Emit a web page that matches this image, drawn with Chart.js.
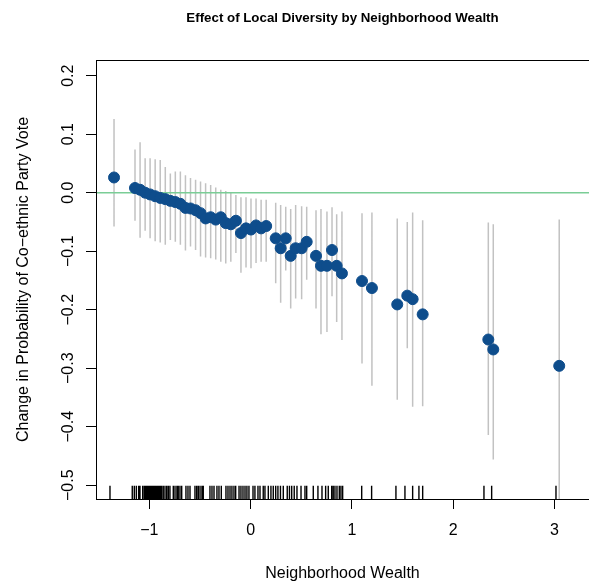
<!DOCTYPE html>
<html>
<head>
<meta charset="utf-8">
<script src="https://cdn.jsdelivr.net/npm/chart.js@4/dist/chart.umd.min.js"></script>
<style>
  html, body { margin: 0; padding: 0; background: #ffffff; overflow: hidden; }
  #wrap { width: 589px; height: 585px; position: relative; }
  canvas { display: block; }
</style>
</head>
<body>
<div id="wrap"><canvas id="chart" width="589" height="585"></canvas></div>
<script>
// Neighborhood wealth at which the marginal effect was evaluated
const wealth = [
  -1.349,
  -1.142, -1.092, -1.042, -0.993, -0.943, -0.893, -0.843, -0.793, -0.744, -0.694,
  -0.644, -0.594, -0.544, -0.495, -0.445, -0.395, -0.345, -0.295, -0.246, -0.196,
  -0.146, -0.096, -0.046, 0.003, 0.053, 0.103, 0.153,
  0.247, 0.296, 0.346, 0.395, 0.444, 0.503, 0.553, 0.645, 0.694, 0.753, 0.803,
  0.849, 0.901, 1.099, 1.197, 1.447, 1.546, 1.599, 1.698, 2.346, 2.395, 3.046
];
// Estimated change in probability of a co-ethnic party vote
const effect = [
  0.026,
  0.008, 0.005, 0.000, -0.003, -0.006, -0.009, -0.011, -0.014, -0.016, -0.019,
  -0.026, -0.027, -0.030, -0.035, -0.044, -0.042, -0.046, -0.042, -0.052, -0.054,
  -0.048, -0.069, -0.061, -0.063, -0.056, -0.061, -0.057,
  -0.078, -0.095, -0.078, -0.108, -0.095, -0.095, -0.084, -0.108, -0.125, -0.125, -0.098,
  -0.125, -0.138, -0.151, -0.163, -0.191, -0.176, -0.182, -0.208, -0.251, -0.268, -0.296
];
// Confidence interval bounds
const ciHigh = [
  0.126,
  0.074, 0.086, 0.059, 0.059, 0.057, 0.056, 0.044, 0.033, 0.036, 0.036,
  0.030, 0.025, 0.022, 0.019, 0.016, 0.013, 0.009, 0.005, 0.003, 0.000,
  -0.004, -0.008, -0.008, -0.010, -0.010, -0.012, -0.012,
  -0.017, -0.021, -0.024, -0.028, -0.021, -0.023, -0.024, -0.030, -0.028, -0.032, -0.025,
  -0.037, -0.032, -0.035, -0.034, -0.044, -0.050, -0.034, -0.047, -0.051, -0.054, -0.046
];
const ciLow = [
  -0.058,
  -0.048, -0.077, -0.065, -0.078, -0.083, -0.085, -0.089, -0.081, -0.084, -0.089,
  -0.099, -0.092, -0.098, -0.109, -0.111, -0.112, -0.114, -0.118, -0.121, -0.118,
  -0.103, -0.137, -0.128, -0.129, -0.120, -0.118, -0.118,
  -0.155, -0.188, -0.133, -0.198, -0.181, -0.182, -0.149, -0.198, -0.242, -0.238, -0.177,
  -0.221, -0.252, -0.292, -0.330, -0.354, -0.266, -0.366, -0.365, -0.414, -0.456, -0.540
];
// Observed neighborhood wealth values (rug)
const rugWealth = [
  -1.389, -1.169, -1.149, -1.129, -1.106, -1.093, -1.066, -1.050, -1.037, -1.024,
  -1.011, -0.997, -0.984, -0.971, -0.958, -0.945, -0.932, -0.918, -0.905, -0.892,
  -0.879, -0.863, -0.846, -0.829, -0.813, -0.797, -0.764, -0.747, -0.728, -0.715,
  -0.698, -0.681, -0.639, -0.619, -0.599, -0.550, -0.533, -0.517, -0.500, -0.481,
  -0.468, -0.402, -0.382, -0.362, -0.333, -0.313, -0.290, -0.244, -0.224, -0.204,
  -0.185, -0.165, -0.148, -0.115, -0.096, -0.076, -0.056, -0.037, -0.017, 0.023,
  0.042, 0.072, 0.092, 0.124, 0.141, 0.174, 0.200, 0.223, 0.247, 0.269,
  0.294, 0.322, 0.361, 0.383, 0.405, 0.430, 0.457, 0.497, 0.536, 0.553,
  0.618, 0.664, 0.704, 0.740, 0.766, 0.800, 0.815, 0.832, 0.852, 0.875,
  0.891, 0.908, 1.096, 1.194, 1.434, 1.523, 1.599, 1.661, 1.698, 2.303,
  2.379, 3.014
];
const xTickValues = [-1, 0, 1, 2, 3];
const yTickValues = [-0.5, -0.4, -0.3, -0.2, -0.1, 0.0, 0.1, 0.2];
const xRange = [-1.527, 3.34];
const yRange = [-0.5236, 0.2268];

const FONT = '"Liberation Sans", Arial, Helvetica, sans-serif';
Chart.defaults.font.family = FONT;

function fmt(v, digits) {
  const s = Math.abs(v).toFixed(digits);
  return (v < -1e-9 ? '\u2212' : '') + s;
}

const pointData = wealth.map((x, i) => ({ x, y: effect[i] }));
const ciData = [];
wealth.forEach((x, i) => { ciData.push({ x, y: ciLow[i] }, { x, y: ciHigh[i] }, { x, y: null }); });
// rug ticks are 3% of the plot height
const rugTop = yRange[0] + (yRange[1] - yRange[0]) * 0.03;
const rugData = [];
rugWealth.forEach(x => { rugData.push({ x, y: yRange[0] }, { x, y: rugTop }, { x, y: null }); });
const zeroData = [{ x: xRange[0], y: 0 }, { x: xRange[1], y: 0 }];

const TICK_LEN = 10;

const framePlugin = {
  id: 'frameAndLabels',
  afterDatasetsDraw(chart) {
    const { ctx, chartArea: a, scales } = chart;
    ctx.save();
    // box around the plotting region
    ctx.strokeStyle = '#000';
    ctx.lineWidth = 1;
    ctx.strokeRect(Math.round(a.left) + 0.5, Math.round(a.top) + 0.5,
                   Math.round(a.right - a.left), Math.round(a.bottom - a.top));
    // main title
    ctx.fillStyle = '#000';
    ctx.font = 'bold 13.3px ' + FONT;
    ctx.textAlign = 'center';
    ctx.textBaseline = 'alphabetic';
    ctx.fillText('Effect of Local Diversity by Neighborhood Wealth', (a.left + a.right) / 2, 22);
    // vertical y tick labels, reading upward
    const ys = scales.y;
    ctx.font = '16px ' + FONT;
    yTickValues.forEach(v => {
      const py = ys.getPixelForValue(v);
      ctx.save();
      ctx.translate(ys.right - TICK_LEN - 13, py);
      ctx.rotate(-Math.PI / 2);
      ctx.fillText(fmt(v, 1), 0, 0);
      ctx.restore();
    });
    ctx.restore();
  }
};

new Chart(document.getElementById('chart'), {
  type: 'scatter',
  data: {
    datasets: [
      {
        data: pointData,
        backgroundColor: '#0E4D8C',
        borderColor: '#0E4D8C',
        borderWidth: 1,
        pointRadius: 5.5,
        order: 0
      },
      {
        data: zeroData,
        showLine: true,
        borderColor: '#7ACD96',
        borderWidth: 1.5,
        pointRadius: 0,
        clip: 0,
        order: 1
      },
      {
        data: ciData,
        showLine: true,
        spanGaps: false,
        borderColor: '#C2C2C2',
        borderWidth: 1.5,
        pointRadius: 0,
        clip: 0,
        order: 2
      },
      {
        data: rugData,
        showLine: true,
        spanGaps: false,
        borderColor: '#000000',
        borderWidth: 1.4,
        pointRadius: 0,
        clip: 0,
        order: 3
      }
    ]
  },
  options: {
    responsive: false,
    animation: false,
    events: [],
    layout: { autoPadding: false, padding: { top: 60, right: 0, bottom: 0, left: 0 } },
    plugins: { legend: { display: false }, tooltip: { enabled: false }, title: { display: false } },
    scales: {
      x: {
        type: 'linear',
        position: 'bottom',
        min: xRange[0],
        max: xRange[1],
        afterBuildTicks: s => { s.ticks = xTickValues.map(v => ({ value: v })); },
        afterFit: s => { s.height = 86; s.paddingLeft = 0; s.paddingRight = 0; },
        grid: { drawOnChartArea: false, drawTicks: true, tickLength: TICK_LEN, color: '#000', lineWidth: 1 },
        border: { display: false },
        ticks: {
          color: '#000', font: { size: 16 }, padding: 12,
          maxRotation: 0, minRotation: 0, autoSkip: false,
          callback: v => fmt(v, 0)
        },
        title: {
          display: true, text: 'Neighborhood Wealth', color: '#000',
          font: { size: 16 }, padding: { top: 0, bottom: 2 }
        }
      },
      y: {
        type: 'linear',
        position: 'left',
        min: yRange[0],
        max: yRange[1],
        afterBuildTicks: s => { s.ticks = yTickValues.map(v => ({ value: v })); },
        afterFit: s => { s.width = 96; s.paddingTop = 0; s.paddingBottom = 0; },
        grid: { drawOnChartArea: false, drawTicks: true, tickLength: TICK_LEN, color: '#000', lineWidth: 1 },
        border: { display: false },
        ticks: { display: false },
        title: {
          display: true, text: 'Change in Probability of Co\u2212ethnic Party Vote', color: '#000',
          font: { size: 16 }, padding: { top: 14, bottom: 0 }
        }
      }
    }
  },
  plugins: [framePlugin]
});
</script>
</body>
</html>
